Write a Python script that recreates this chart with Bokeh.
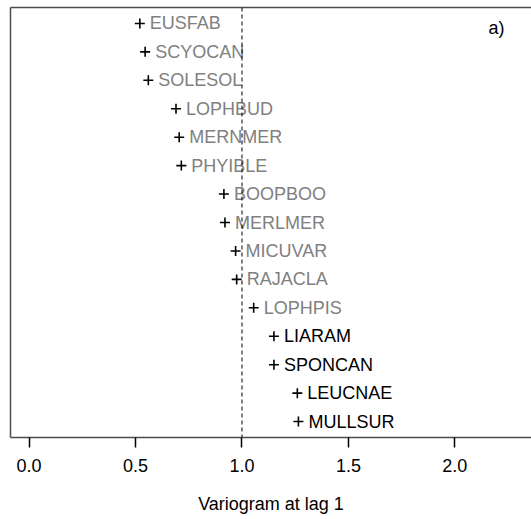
from bokeh.plotting import figure
from bokeh.models import Range1d, LinearAxis, FixedTicker, NumeralTickFormatter, Span, Label, ColumnDataSource
from bokeh.core.properties import value
from bokeh.embed import file_html
from bokeh.resources import INLINE

species = ["EUSFAB", "SCYOCAN", "SOLESOL", "LOPHBUD", "MERNMER", "PHYIBLE", "BOOPBOO",
           "MERLMER", "MICUVAR", "RAJACLA", "LOPHPIS", "LIARAM", "SPONCAN", "LEUCNAE", "MULLSUR"]
variogram = [0.52, 0.545, 0.56, 0.69, 0.705, 0.715, 0.915, 0.92, 0.97, 0.975, 1.055,
             1.15, 1.15, 1.26, 1.265]
significant = [False] * 11 + [True] * 4
ticks = [0.0, 0.5, 1.0, 1.5, 2.0]

FONT = "Liberation Sans"
FS = "18px"
FRAME = "#4d4d4d"

n = len(species)
ypos = [n - i for i in range(n)]
colors = ["black" if s else "#808080" for s in significant]
src = ColumnDataSource(dict(x=variogram, y=ypos, name=species, color=colors))

p = figure(width=531, height=519, output_backend="svg", toolbar_location=None,
           x_range=Range1d(-0.0875, 2.36), y_range=Range1d(0.44, 15.56),
           x_axis_type=None, y_axis_type=None,
           min_border_left=10, min_border_right=0, min_border_top=7, min_border_bottom=82)
p.outline_line_color = None
p.xgrid.visible = False
p.ygrid.visible = False
p.background_fill_color = "white"
p.border_fill_color = "white"

# bottom axis
xa = LinearAxis(ticker=FixedTicker(ticks=ticks), formatter=NumeralTickFormatter(format="0.0"))
xa.axis_label = "Variogram at lag 1"
xa.axis_label_text_font = FONT
xa.axis_label_text_font_size = FS
xa.axis_label_text_font_style = "normal"
xa.axis_label_text_color = "black"
xa.axis_label_standoff = 19
xa.major_label_text_font = FONT
xa.major_label_text_font_size = FS
xa.major_label_text_color = "black"
xa.major_label_standoff = 11
xa.major_tick_in = 0
xa.major_tick_out = 10
xa.major_tick_line_color = "black"
xa.major_tick_line_width = 1.5
xa.minor_tick_line_color = None
xa.axis_line_color = FRAME
xa.axis_line_width = 1.5
p.add_layout(xa, "below")

# left and top frame lines
for side in ("left", "above"):
    ax = LinearAxis(ticker=FixedTicker(ticks=[]), major_tick_line_color=None,
                    minor_tick_line_color=None, major_label_standoff=0,
                    major_tick_in=0, major_tick_out=0,
                    axis_line_color=FRAME, axis_line_width=1.5)
    p.add_layout(ax, side)

p.add_layout(Span(location=1.0, dimension="height", line_color="black",
                  line_width=1, line_dash="4 3"))

p.scatter("x", "y", source=src, marker="cross", size=10, line_width=1.6, color="black")
p.text("x", "y", text="name", source=src, x_offset=10, text_align="left",
       text_baseline="middle", text_font=value(FONT), text_font_size=FS,
       text_color="color")

p.add_layout(Label(x=478, y=410, x_units="screen", y_units="screen", text="a)",
                   text_font=FONT, text_font_size=FS, text_baseline="middle",
                   text_color="black"))

open("out.html", "w").write(file_html(p, INLINE))
